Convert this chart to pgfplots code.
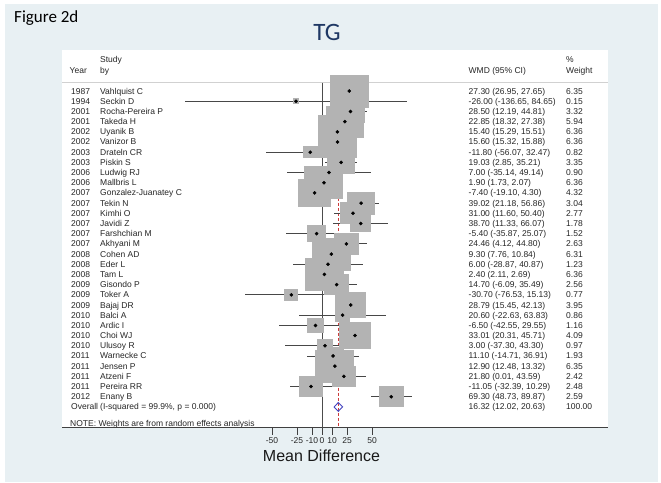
\documentclass[border=0pt]{standalone}
\usepackage{pgfplots}
\pgfplotsset{compat=1.18}
\usepackage{pgfplotstable}
\usepackage{fontspec}
\setmainfont{Liberation Sans}
\newfontfamily\carlito{Carlito}

\definecolor{bgblue}{HTML}{E8F0F3}
\definecolor{boxgray}{HTML}{B3B3B3}
\definecolor{cigray}{HTML}{474747}
\definecolor{titleblue}{HTML}{1F3864}
\definecolor{ovblue}{HTML}{4545C0}
\definecolor{ovred}{HTML}{CC3B3B}

% one row per study; the last row is the pooled estimate
\pgfplotstableread[col sep=semicolon]{
row;year;study;es;lo;hi;wt;ci
0;1987;Vahlquist C;27.30;26.95;27.65;6.35;27.30 (26.95, 27.65)
1;1994;Seckin D;-26.00;-136.65;84.65;0.15;-26.00 (-136.65, 84.65)
2;2001;Rocha-Pereira P;28.50;12.19;44.81;3.32;28.50 (12.19, 44.81)
3;2001;Takeda H;22.85;18.32;27.38;5.94;22.85 (18.32, 27.38)
4;2002;Uyanik B;15.40;15.29;15.51;6.36;15.40 (15.29, 15.51)
5;2002;Vanizor B;15.60;15.32;15.88;6.36;15.60 (15.32, 15.88)
6;2003;Drateln CR;-11.80;-56.07;32.47;0.82;-11.80 (-56.07, 32.47)
7;2003;Piskin S;19.03;2.85;35.21;3.35;19.03 (2.85, 35.21)
8;2006;Ludwig RJ;7.00;-35.14;49.14;0.90;7.00 (-35.14, 49.14)
9;2006;Mallbris L;1.90;1.73;2.07;6.36;1.90 (1.73, 2.07)
10;2007;Gonzalez-Juanatey C;-7.40;-19.10;4.30;4.32;-7.40 (-19.10, 4.30)
11;2007;Tekin N;39.02;21.18;56.86;3.04;39.02 (21.18, 56.86)
12;2007;Kimhi O;31.00;11.60;50.40;2.77;31.00 (11.60, 50.40)
13;2007;Javidi Z;38.70;11.33;66.07;1.78;38.70 (11.33, 66.07)
14;2007;Farshchian M;-5.40;-35.87;25.07;1.52;-5.40 (-35.87, 25.07)
15;2007;Akhyani M;24.46;4.12;44.80;2.63;24.46 (4.12, 44.80)
16;2008;Cohen AD;9.30;7.76;10.84;6.31;9.30 (7.76, 10.84)
17;2008;Eder L;6.00;-28.87;40.87;1.23;6.00 (-28.87, 40.87)
18;2008;Tam L;2.40;2.11;2.69;6.36;2.40 (2.11, 2.69)
19;2009;Gisondo P;14.70;-6.09;35.49;2.56;14.70 (-6.09, 35.49)
20;2009;Toker A;-30.70;-76.53;15.13;0.77;-30.70 (-76.53, 15.13)
21;2009;Bajaj DR;28.79;15.45;42.13;3.95;28.79 (15.45, 42.13)
22;2010;Balci A;20.60;-22.63;63.83;0.86;20.60 (-22.63, 63.83)
23;2010;Ardic I;-6.50;-42.55;29.55;1.16;-6.50 (-42.55, 29.55)
24;2010;Choi WJ;33.01;20.31;45.71;4.09;33.01 (20.31, 45.71)
25;2010;Ulusoy R;3.00;-37.30;43.30;0.97;3.00 (-37.30, 43.30)
26;2011;Warnecke C;11.10;-14.71;36.91;1.93;11.10 (-14.71, 36.91)
27;2011;Jensen P;12.90;12.48;13.32;6.35;12.90 (12.48, 13.32)
28;2011;Atzeni F;21.80;0.01;43.59;2.42;21.80 (0.01, 43.59)
29;2011;Pereira RR;-11.05;-32.39;10.29;2.48;-11.05 (-32.39, 10.29)
30;2012;Enany B;69.30;48.73;89.87;2.59;69.30 (48.73, 89.87)
31;Overall;(I-squared = 99.9\%, p = 0.000);16.32;12.02;20.63;100.00;16.32 (12.02, 20.63)
}\studies

\pgfplotsset{
  rowtext/.style={only marks, mark=none, nodes near coords,
    point meta=explicit symbolic,
    nodes near coords style={anchor=base west, yshift=-3pt, inner sep=0pt,
      font=\fontsize{8.5}{10}\selectfont, text=black!85}},
}

\begin{document}
\begin{tikzpicture}
\useasboundingbox (0pt,0pt) rectangle (661pt,482pt);
\fill[white] (0pt,0pt) rectangle (661pt,482pt);
\fill[bgblue] (5pt,0pt) rectangle (658pt,478pt);
\fill[white] (62pt,54.5pt) rectangle (607.7pt,432pt);
\draw[black!18, line width=0.8pt] (62pt,399.3pt) -- (607.7pt,399.3pt);

\node[anchor=base west, inner sep=0pt, font=\carlito\fontsize{17}{19}\selectfont]
  at (14pt,459.3pt) {Figure 2d};
\node[anchor=base, inner sep=0pt, text=titleblue, font=\carlito\fontsize{25}{28}\selectfont]
  at (327pt,441.3pt) {TG};

\begin{scope}[every node/.style={anchor=base west, inner sep=0pt,
    font=\fontsize{8.5}{10}\selectfont, text=black!85}]
  \node at (100pt,419pt) {Study};
  \node at (69.5pt,408.5pt) {Year};
  \node at (100pt,408.5pt) {by};
  \node at (468.5pt,408.5pt) {WMD (95\% CI)};
  \node at (566pt,419pt) {\%};
  \node at (566pt,408.5pt) {Weight};
  \node at (70pt,56pt) {NOTE: Weights are from random effects analysis};
\end{scope}
\node[anchor=base, inner sep=0pt, font=\fontsize{16}{18}\selectfont, text=black!90]
  at (321.5pt,20.3pt) {Mean Difference};

\begin{axis}[
  at={(62pt,54.5pt)}, anchor=south west, scale only axis,
  width=545.5pt, height=344.8pt,
  xmin=-260, xmax=285.5, ymin=-33.02, ymax=0.82,
  axis x line*=bottom, axis y line=none,
  axis line style={draw=black!75, line width=1.1pt},
  xtick={-50,-25,-10,0,10,25,50},
  xticklabels={-50,-25,-10,0,10,25,50},
  tick align=outside, major tick length=7pt,
  tick style={draw=black!75, line width=0.9pt},
  xticklabel style={font=\fontsize{8.5}{10}\selectfont, text=black!85},
  ytick=\empty,
  clip=false,
]
% line of no effect and pooled estimate
\addplot[draw=black!70, line width=1pt] coordinates {(0,0.82) (0,-33.02)};
\addplot[draw=ovred, line width=0.8pt, dash pattern=on 3pt off 2pt]
  coordinates {(16.32,0.82) (16.32,-33.0)};

% study weight boxes, side proportional to sqrt(weight)
\addplot[scatter, only marks, mark=square*,
  restrict y to domain=-30.5:0.5,
  scatter/use mapped color={draw=boxgray, fill=boxgray},
  mark options={draw=boxgray, fill=boxgray, line width=0pt, yscale=0.84},
  visualization depends on={7.55*sqrt(\thisrow{wt}) \as \hs},
  scatter/@pre marker code/.append style={/tikz/mark size=\hs pt}]
  table[x=es, y expr=-\thisrow{row}]{\studies};

% point estimates with 95% CI
\addplot[only marks, mark=*, mark size=1.6pt, mark options={fill=black, draw=none},
  restrict y to domain=-30.5:0.5,
  error bars/.cd, x dir=both, x explicit, error mark=none,
  error bar style={draw=cigray, line width=0.9pt}]
  table[x=es, y expr=-\thisrow{row},
    x error plus expr=\thisrow{hi}-\thisrow{es},
    x error minus expr=\thisrow{es}-\thisrow{lo}]{\studies};

% overall diamond
\addplot[draw=ovblue, line width=0.9pt]
  coordinates {(12.02,-31) (16.32,-30.57) (20.63,-31) (16.32,-31.43) (12.02,-31)};

% text columns
\addplot[rowtext] table[x expr=-251, y expr=-\thisrow{row}, meta=year]{\studies};
\addplot[rowtext] table[x expr=-222, y expr=-\thisrow{row}, meta=study]{\studies};
\addplot[rowtext] table[x expr=146.5, y expr=-\thisrow{row}, meta=ci]{\studies};
\addplot[rowtext] table[x expr=244, y expr=-\thisrow{row}, meta=wt]{\studies};
\end{axis}
\end{tikzpicture}
\end{document}
